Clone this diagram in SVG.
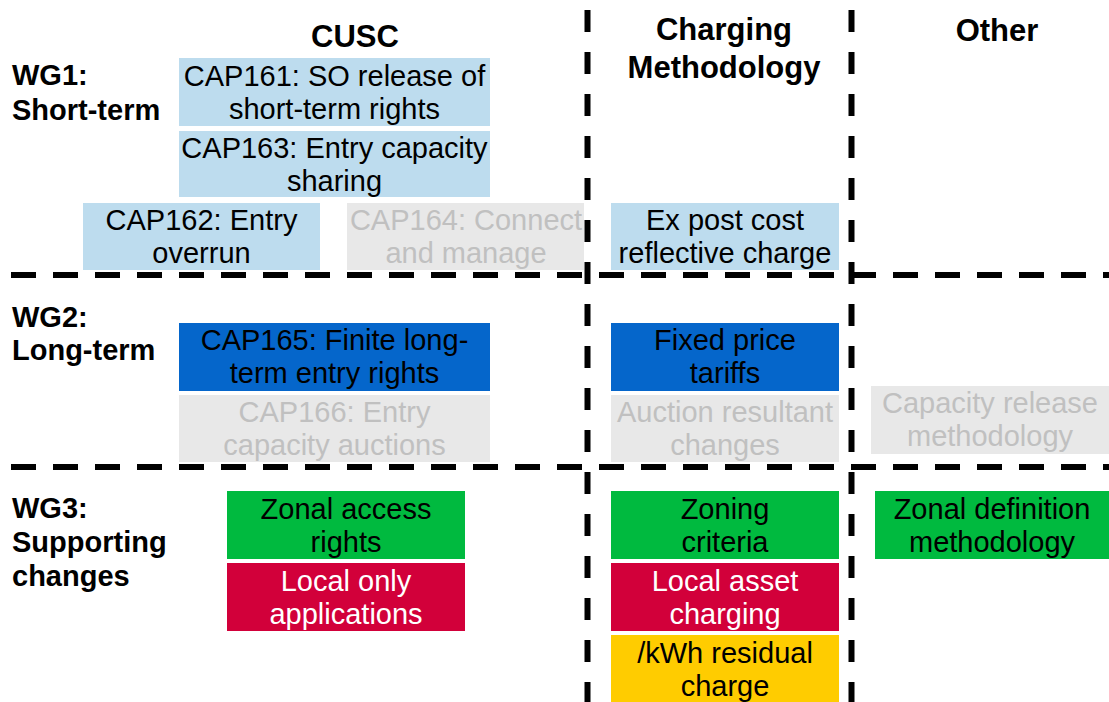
<svg xmlns="http://www.w3.org/2000/svg" width="1109" height="702" viewBox="0 0 1109 702">
<style>
text{font-family:"Liberation Sans",Arial,sans-serif;text-anchor:middle}
.h{font-size:31px;font-weight:bold;fill:#000}
.r{font-size:29px;font-weight:bold;fill:#000;text-anchor:start}
.t{font-size:29px;fill:#000}
.g{fill:#c0c0c0}
.w{fill:#fff}
.lb{fill:#bddcee}
.gr{fill:#e8e8e8}
.bl{fill:#0566cb}
.gn{fill:#00ba3f}
.rd{fill:#d2003a}
.yl{fill:#ffcc00}
.dh{stroke:#000;stroke-width:6;stroke-dasharray:25 17;fill:none}
.dv{stroke:#000;stroke-width:6;stroke-dasharray:22 20;fill:none}
</style>
<rect width="1109" height="702" fill="#fff"/>
<g id="headers">
<text class="h" x="355" y="47">CUSC</text>
<text class="h" x="724" y="40">Charging</text>
<text class="h" x="724" y="78">Methodology</text>
<text class="h" x="997" y="41">Other</text>
</g>
<g id="rowlabels">
<text class="r" x="12" y="85">WG1:</text>
<text class="r" x="12" y="120">Short-term</text>
<text class="r" x="12" y="327">WG2:</text>
<text class="r" x="12" y="360">Long-term</text>
<text class="r" x="12" y="518">WG3:</text>
<text class="r" x="12" y="552">Supporting</text>
<text class="r" x="12" y="586">changes</text>
</g>
<g id="cap161"><rect class="lb" x="179" y="58" width="311" height="68"/><text class="t" x="334.5" y="86">CAP161: SO release of</text><text class="t" x="334.5" y="119">short-term rights</text></g>
<g id="cap163"><rect class="lb" x="179" y="131" width="311" height="66"/><text class="t" x="334.5" y="158">CAP163: Entry capacity</text><text class="t" x="334.5" y="191">sharing</text></g>
<g id="cap162"><rect class="lb" x="83" y="203" width="237" height="67"/><text class="t" x="201.5" y="230">CAP162: Entry</text><text class="t" x="201.5" y="263">overrun</text></g>
<g id="cap164"><rect class="gr" x="347" y="203" width="237" height="67"/><text class="t g" x="466" y="230">CAP164: Connect</text><text class="t g" x="466" y="263">and manage</text></g>
<g id="expost"><rect class="lb" x="611" y="203" width="228" height="67"/><text class="t" x="725" y="230">Ex post cost</text><text class="t" x="725" y="263">reflective charge</text></g>
<g id="cap165"><rect class="bl" x="179" y="323" width="311" height="68"/><text class="t" x="334.5" y="350">CAP165: Finite long-</text><text class="t" x="334.5" y="383">term entry rights</text></g>
<g id="cap166"><rect class="gr" x="179" y="395" width="311" height="67"/><text class="t g" x="334.5" y="422">CAP166: Entry</text><text class="t g" x="334.5" y="455">capacity auctions</text></g>
<g id="fixedprice"><rect class="bl" x="611" y="323" width="228" height="68"/><text class="t" x="725" y="350">Fixed price</text><text class="t" x="725" y="383">tariffs</text></g>
<g id="auction"><rect class="gr" x="611" y="395" width="228" height="67"/><text class="t g" x="725" y="422">Auction resultant</text><text class="t g" x="725" y="455">changes</text></g>
<g id="caprelease"><rect class="gr" x="871" y="386" width="238" height="68"/><text class="t g" x="990" y="413">Capacity release</text><text class="t g" x="990" y="446">methodology</text></g>
<g id="zonalaccess"><rect class="gn" x="227" y="491" width="238" height="68"/><text class="t" x="346" y="519">Zonal access</text><text class="t" x="346" y="552">rights</text></g>
<g id="localonly"><rect class="rd" x="227" y="563" width="238" height="68"/><text class="t w" x="346" y="591">Local only</text><text class="t w" x="346" y="624">applications</text></g>
<g id="zoning"><rect class="gn" x="611" y="491" width="228" height="68"/><text class="t" x="725" y="519">Zoning</text><text class="t" x="725" y="552">criteria</text></g>
<g id="localasset"><rect class="rd" x="611" y="563" width="228" height="68"/><text class="t w" x="725" y="591">Local asset</text><text class="t w" x="725" y="624">charging</text></g>
<g id="kwh"><rect class="yl" x="611" y="635" width="228" height="67"/><text class="t" x="725" y="663">/kWh residual</text><text class="t" x="725" y="696">charge</text></g>
<g id="zonaldef"><rect class="gn" x="875" y="491" width="234" height="68"/><text class="t" x="992" y="519">Zonal definition</text><text class="t" x="992" y="552">methodology</text></g>
<g id="connectors">
<line class="dh" x1="11" y1="275" x2="1109" y2="275"/>
<line class="dh" x1="11" y1="467" x2="1109" y2="467"/>
<line class="dv" x1="587.5" y1="10" x2="587.5" y2="702"/>
<line class="dv" x1="851.5" y1="10" x2="851.5" y2="702"/>
</g>
</svg>
